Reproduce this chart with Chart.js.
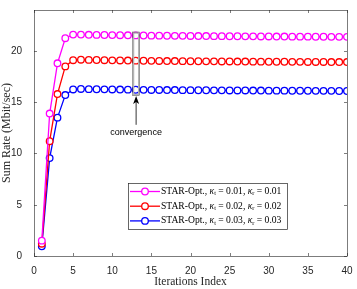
<!DOCTYPE html>
<html>
<head>
<meta charset="utf-8">
<script src="https://cdn.jsdelivr.net/npm/chart.js@4/dist/chart.umd.min.js"></script>
<style>
  html, body { margin: 0; padding: 0; background: #fff; }
  #wrap { width: 357px; height: 289px; }
</style>
</head>
<body>
<div id="wrap"><canvas id="c" width="357" height="289"></canvas></div>
<script>
// iterations 1..40
const iterations = [];
for (let i = 1; i <= 40; i++) iterations.push(i);

const rateK001 = [1.5, 13.9, 18.8, 21.25, 21.6, 21.6, 21.58, 21.57, 21.56, 21.55,
  21.54, 21.53, 21.52, 21.51, 21.5, 21.5, 21.49, 21.48, 21.48, 21.47,
  21.46, 21.46, 21.45, 21.45, 21.44, 21.44, 21.43, 21.43, 21.42, 21.42,
  21.41, 21.41, 21.4, 21.4, 21.4, 21.39, 21.39, 21.38, 21.38, 21.38];
const rateK002 = [1.2, 11.2, 15.8, 18.5, 19.1, 19.15, 19.13, 19.12, 19.1, 19.09,
  19.08, 19.07, 19.06, 19.05, 19.04, 19.03, 19.02, 19.02, 19.01, 19.0,
  19.0, 18.99, 18.99, 18.98, 18.98, 18.97, 18.97, 18.96, 18.96, 18.95,
  18.95, 18.95, 18.94, 18.94, 18.93, 18.93, 18.93, 18.92, 18.92, 18.92];
const rateK003 = [0.95, 9.55, 13.5, 15.7, 16.25, 16.3, 16.28, 16.27, 16.26, 16.25,
  16.24, 16.23, 16.22, 16.21, 16.2, 16.2, 16.19, 16.19, 16.18, 16.18,
  16.17, 16.17, 16.16, 16.16, 16.15, 16.15, 16.15, 16.14, 16.14, 16.13,
  16.13, 16.13, 16.12, 16.12, 16.12, 16.11, 16.11, 16.11, 16.1, 16.1];

const seriesColors = ['#ff00ff', '#ff0000', '#0000ff'];
const kappaLabels = ['0.01', '0.02', '0.03'];
const xTicks = [0, 5, 10, 15, 20, 25, 30, 35, 40];
const yTicks = [0, 5, 10, 15, 20];

function pts(arr) {
  return arr.map((v, i) => ({ x: iterations[i], y: v }));
}

const datasets = [rateK001, rateK002, rateK003].map((arr, k) => ({
  data: pts(arr),
  borderColor: seriesColors[k],
  backgroundColor: '#ffffff',
  pointBorderColor: seriesColors[k],
  pointBackgroundColor: '#ffffff',
  pointRadius: 3.3,
  pointBorderWidth: 1.3,
  borderWidth: 1.3,
  tension: 0
}));

// draws frame, inward ticks, legend and annotation
const matlabLook = {
  id: 'matlabLook',
  afterDatasetsDraw(chart) {
    const ctx = chart.ctx;
    const a = chart.chartArea;
    const xs = chart.scales.x, ys = chart.scales.y;
    ctx.save();
    ctx.strokeStyle = '#262626';
    ctx.lineWidth = 0.6;
    ctx.strokeRect(a.left + 0.5, a.top + 0.5, a.right - a.left, a.bottom - a.top);
    ctx.beginPath();
    xTicks.forEach(t => {
      const px = Math.round(xs.getPixelForValue(t)) + 0.5;
      ctx.moveTo(px, a.bottom); ctx.lineTo(px, a.bottom - 3);
      ctx.moveTo(px, a.top); ctx.lineTo(px, a.top + 3);
    });
    yTicks.forEach(t => {
      const py = Math.round(ys.getPixelForValue(t)) + 0.5;
      ctx.moveTo(a.left, py); ctx.lineTo(a.left + 3, py);
      ctx.moveTo(a.right, py); ctx.lineTo(a.right - 3, py);
    });
    ctx.stroke();

    // convergence annotation
    const rx0 = xs.getPixelForValue(12.6), rx1 = xs.getPixelForValue(13.5);
    const ry0 = ys.getPixelForValue(21.85), ry1 = ys.getPixelForValue(15.65);
    ctx.strokeStyle = '#b4b4b4';
    ctx.lineWidth = 1.3;
    ctx.strokeRect(rx0 + 1, ry0 + 1, rx1 - rx0 - 2, ry1 - ry0 - 2);
    ctx.strokeStyle = '#444';
    ctx.lineWidth = 0.5;
    ctx.strokeRect(rx0, ry0, rx1 - rx0, ry1 - ry0);
    const ax = xs.getPixelForValue(13.05);
    const tipY = ys.getPixelForValue(15.6), tailY = ys.getPixelForValue(12.8);
    ctx.strokeStyle = '#000';
    ctx.lineWidth = 0.8;
    ctx.beginPath();
    ctx.moveTo(ax, tailY); ctx.lineTo(ax, tipY + 5);
    ctx.stroke();
    ctx.fillStyle = '#000';
    ctx.beginPath();
    ctx.moveTo(ax, tipY);
    ctx.lineTo(ax - 3, tipY + 8);
    ctx.lineTo(ax, tipY + 6);
    ctx.lineTo(ax + 3, tipY + 8);
    ctx.closePath();
    ctx.fill();
    ctx.font = '9px "Liberation Sans", Arial, sans-serif';
    ctx.textAlign = 'center';
    ctx.textBaseline = 'middle';
    ctx.fillText('convergence', ax, ys.getPixelForValue(12.0));

    // legend
    const lx = 128, ly = 183, lw = 159, lh = 46;
    ctx.fillStyle = '#fff';
    ctx.fillRect(lx, ly, lw, lh);
    ctx.strokeStyle = '#262626';
    ctx.lineWidth = 0.7;
    ctx.strokeRect(lx + 0.5, ly + 0.5, lw, lh);
    seriesColors.forEach((col, k) => {
      const yy = ly + 8.5 + k * 14.7;
      ctx.strokeStyle = col;
      ctx.lineWidth = 1.3;
      ctx.beginPath();
      ctx.moveTo(lx + 2, yy); ctx.lineTo(lx + 32, yy);
      ctx.stroke();
      ctx.fillStyle = '#fff';
      ctx.beginPath();
      ctx.arc(lx + 17, yy, 3.3, 0, Math.PI * 2);
      ctx.fill(); ctx.stroke();
      // text with subscripts
      ctx.fillStyle = '#000';
      ctx.textAlign = 'left';
      ctx.textBaseline = 'middle';
      let tx = lx + 33;
      const main = '9.6px "Liberation Serif", "DejaVu Serif", serif';
      const ital = 'italic 9.6px "Liberation Serif", "DejaVu Serif", serif';
      const sub = '6.3px "Liberation Serif", "DejaVu Serif", serif';
      const parts = [
        [main, 'STAR-Opt., ', 0], [ital, 'κ', 0], [sub, 't', 2],
        [main, ' = ' + kappaLabels[k] + ', ', 0], [ital, 'κ', 0], [sub, 'r', 2],
        [main, ' = ' + kappaLabels[k], 0]
      ];
      parts.forEach(([f, s, dy]) => {
        ctx.font = f;
        ctx.fillText(s, tx, yy + dy);
        tx += ctx.measureText(s).width;
      });
    });
    ctx.restore();
  }
};

new Chart(document.getElementById('c'), {
  type: 'line',
  data: { datasets },
  options: {
    responsive: false,
    animation: false,
    layout: { padding: { top: 10, right: 10, left: 0, bottom: 0 } },
    plugins: { legend: { display: false }, tooltip: { enabled: false } },
    scales: {
      x: {
        type: 'linear', min: 0, max: 40,
        afterBuildTicks: s => { s.ticks = xTicks.map(v => ({ value: v })); },
        grid: { display: false },
        border: { display: false },
        ticks: { color: '#262626', font: { family: '"Liberation Sans", Arial, sans-serif', size: 10 }, padding: 1, maxRotation: 0 },
        title: { display: true, text: 'Iterations Index', color: '#262626', font: { family: '"Liberation Serif", "DejaVu Serif", serif', size: 11.5 }, padding: { top: 0, bottom: 0 } },
        afterFit: s => { s.height = 33; }
      },
      y: {
        type: 'linear', min: 0, max: 24,
        afterBuildTicks: s => { s.ticks = yTicks.map(v => ({ value: v })); },
        grid: { display: false },
        border: { display: false },
        ticks: { color: '#262626', font: { family: '"Liberation Sans", Arial, sans-serif', size: 10 }, padding: 4 },
        title: { display: true, text: 'Sum Rate (Mbit/sec)', color: '#262626', font: { family: '"Liberation Serif", "DejaVu Serif", serif', size: 12 }, padding: { top: 0, bottom: 1 } },
        afterFit: s => { s.width = 34; }
      }
    }
  },
  plugins: [matlabLook]
});
</script>
</body>
</html>
